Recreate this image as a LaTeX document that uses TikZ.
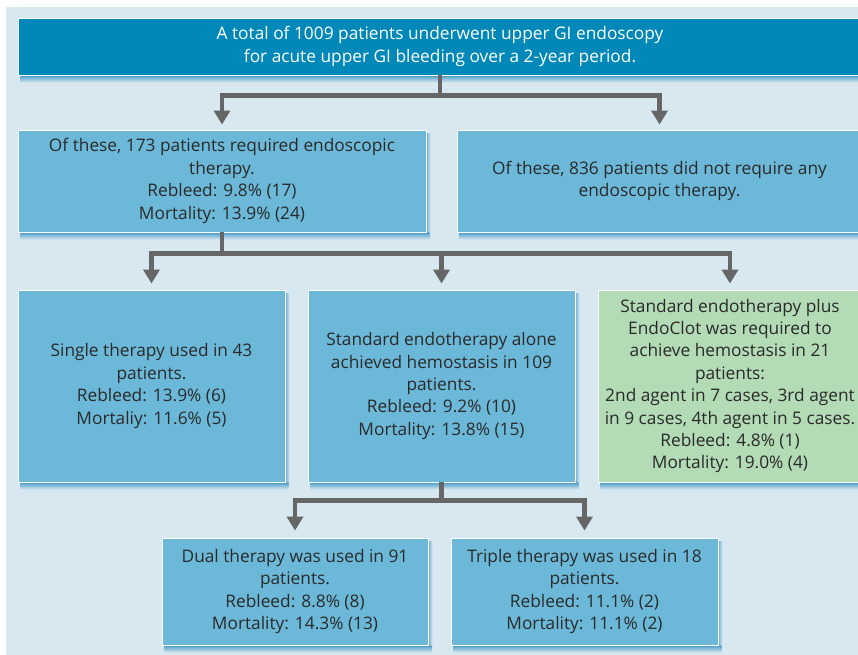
\documentclass[tikz,border=0pt]{standalone}
\usepackage{fontspec}
\setmainfont{Open Sans}
\usetikzlibrary{arrows.meta,backgrounds}
\definecolor{bgc}{HTML}{D8E8F1}
\definecolor{topc}{HTML}{0088B8}
\definecolor{boxc}{HTML}{6CB8D8}
\definecolor{greenc}{HTML}{B3DBB5}
\definecolor{linec}{HTML}{666666}
\definecolor{shadc}{HTML}{4C9CC9}
\definecolor{txtc}{HTML}{2A2A2A}
\begin{document}
\begin{tikzpicture}[x=1bp,y=-1bp,
  box/.style={draw=white, line width=0.9bp, fill=boxc, inner sep=0pt, align=center,
    text=txtc, font=\fontsize{17.3bp}{22.4bp}\selectfont},
  conn/.style={draw=linec, line width=4.5bp},
  arr/.style={conn, -{Triangle[width=16bp,length=14bp]}},
]
\useasboundingbox (0,0) rectangle (858,655);

\node[box, fill=topc, text=white, minimum width=844bp, minimum height=57bp] (top) at (440,46.5)
  {A total of 1009 patients underwent upper GI endoscopy\\for acute upper GI bleeding over a 2-year period.};

\node[box, minimum width=408bp, minimum height=102bp] (n2a) at (222,181)
  {Of these, 173 patients required endoscopic\\therapy.\\Rebleed: 9.8\% (17)\\Mortality: 13.9\% (24)};
\node[box, minimum width=405bp, minimum height=102bp] (n2b) at (659.5,181)
  {Of these, 836 patients did not require any\\endoscopic therapy.};

\node[box, minimum width=267bp, minimum height=192bp] (n3a) at (151.5,386)
  {Single therapy used in 43\\patients.\\Rebleed: 13.9\% (6)\\Mortaliy: 11.6\% (5)};
\node[box, minimum width=267bp, minimum height=192bp] (n3b) at (441.5,386)
  {Standard endotherapy alone\\achieved hemostasis in 109\\patients.\\Rebleed: 9.2\% (10)\\Mortality: 13.8\% (15)};
\node[box, fill=greenc, minimum width=264bp, minimum height=192bp] (n3c) at (730,386)
  {Standard endotherapy plus\\EndoClot was required to\\achieve hemostasis in 21\\patients:\\2nd agent in 7 cases, 3rd agent\\in 9 cases, 4th agent in 5 cases.\\Rebleed: 4.8\% (1)\\Mortality: 19.0\% (4)};

\node[box, minimum width=266bp, minimum height=107bp] (n4a) at (295,591.5)
  {Dual therapy was used in 91\\patients.\\Rebleed: 8.8\% (8)\\Mortality: 14.3\% (13)};
\node[box, minimum width=267bp, minimum height=107bp] (n4b) at (584.5,591.5)
  {Triple therapy was used in 18\\patients.\\Rebleed: 11.1\% (2)\\Mortality: 11.1\% (2)};

\draw[conn] (top.south) -- ++(0,20) coordinate (j1);
\draw[arr] (j1) -| ([yshift=5bp]n2a.north);
\draw[arr] (j1) -| ([yshift=5bp]n2b.north);

\draw[conn] (n2a.south) -- ++(0,21) coordinate (j2);
\draw[arr] (j2) -| ([yshift=6bp]n3a.north);
\draw[arr] (j2) -| ([yshift=6bp]n3b.north);
\draw[arr] (j2) -| ([yshift=6bp]n3c.north);

\draw[conn] (n3b.south) -- ++(0,18) coordinate (j3);
\draw[arr] (j3) -| ([yshift=7bp]n4a.north);
\draw[arr] (j3) -| ([yshift=7bp]n4b.north);

\begin{scope}[on background layer]
  \fill[bgc] (6,7) rectangle (862,660);
  \foreach \n in {top,n2a,n2b,n3a,n3b,n3c,n4a,n4b}{
    \shade[top color=shadc, bottom color=bgc]
      ([xshift=3bp]\n.south west) rectangle ([xshift=3bp,yshift=-7bp]\n.south east);
    \shade[left color=shadc, right color=bgc, opacity=0.7]
      ([yshift=-4bp]\n.north east) rectangle ([xshift=4bp]\n.south east);
  }
\end{scope}
\end{tikzpicture}
\end{document}
